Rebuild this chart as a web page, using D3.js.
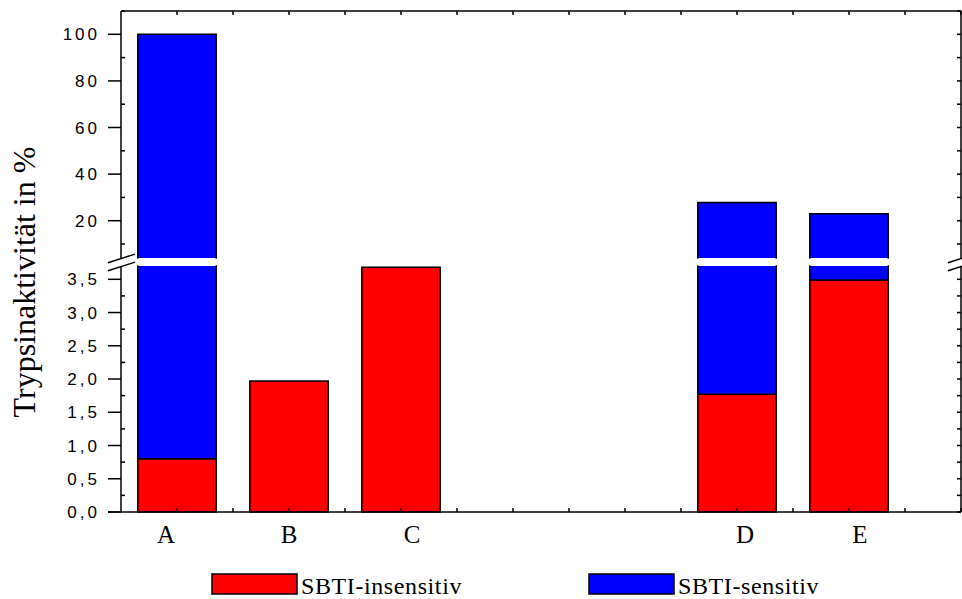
<!DOCTYPE html>
<html>
<head>
<meta charset="utf-8">
<script src="https://cdn.jsdelivr.net/npm/d3@7"></script>
<style>
    html, body { margin: 0; padding: 0; background: #ffffff; }
    svg { display: block; }
</style>
</head>
<body>
<svg id="chart" width="962" height="599"></svg>
<script>
// data
const categories = ["A", "B", "C", "D", "E"];
const slots = [1, 2, 3, 6, 7];
const insensitive = [0.8, 1.97, 3.68, 1.77, 3.49];
const sensitive = [99.2, 0, 0, 26.0, 19.5];
const lowTicks = [0, 0.5, 1, 1.5, 2, 2.5, 3, 3.5];
const highTicks = [20, 40, 60, 80, 100];
const seriesNames = ["SBTI-insensitiv", "SBTI-sensitiv"];
const seriesColors = ["#ff0000", "#0000ff"];
// small shifts of the category labels, as in the original layout
const labelNudge = [-11, 0, 11, 8, 11];

const frame = { left: 121, right: 961, top: 11, bottom: 512 };
const gapTop = 258, gapBottom = 266;

const svg = d3.select("#chart");

const x = d3.scaleLinear()
    .domain([0.5, 8])
    .range([frame.left, frame.right]);

const yLow = d3.scaleLinear().domain([0, 3.7]).range([frame.bottom, gapBottom]);
const yHigh = d3.scaleLinear().domain([4, 110]).range([gapTop, frame.top]);

const panels = [
    { scale: yLow, lo: 0, hi: 3.7 },
    { scale: yHigh, lo: 4, hi: 110 }
];

const commaFormat = d3.formatLocale({ decimal: ",", thousands: ".", grouping: [3], currency: ["", "€"] }).format(".1f");

const barWidth = x(0.7) - x(0);

// bars, cut at the axis break
const bars = svg.append("g");
categories.forEach((cat, i) => {
    const segments = [
        { y0: 0, y1: insensitive[i], color: seriesColors[0] },
        { y0: insensitive[i], y1: insensitive[i] + sensitive[i], color: seriesColors[1] }
    ].filter(s => s.y1 > s.y0);

    const xl = x(slots[i]) - barWidth / 2;
    const xr = x(slots[i]) + barWidth / 2;

    segments.forEach(seg => {
        panels.forEach(p => {
            const a = Math.max(seg.y0, p.lo);
            const b = Math.min(seg.y1, p.hi);
            if (b <= a) return;
            const yt = p.scale(b), yb = p.scale(a);
            bars.append("rect")
                .attr("x", xl)
                .attr("y", yt)
                .attr("width", barWidth)
                .attr("height", yb - yt)
                .attr("fill", seg.color);

            let d = `M${xl},${yb}V${yt}M${xr},${yb}V${yt}`;
            if (seg.y1 <= p.hi) d += `M${xl},${yt}H${xr}`;
            if (seg.y0 >= p.lo) d += `M${xl},${yb}H${xr}`;
            bars.append("path")
                .attr("d", d)
                .attr("fill", "none")
                .attr("stroke", "#000")
                .attr("stroke-width", 1.5)
                .attr("stroke-linecap", "square");
        });
    });
});

const ink = "#000";
const axes = svg.append("g")
    .attr("stroke", ink)
    .attr("stroke-width", 1.5)
    .attr("fill", "none");

// left and right frame, broken at the gap
[frame.left, frame.right].forEach(xp => {
    axes.append("line").attr("x1", xp).attr("x2", xp).attr("y1", frame.top).attr("y2", gapTop + 0.5);
    axes.append("line").attr("x1", xp).attr("x2", xp).attr("y1", gapBottom + 0.5).attr("y2", frame.bottom);
    // break marks
    [gapTop + 0.5, gapBottom + 0.5].forEach(yc => {
        axes.append("line")
            .attr("x1", xp - 13).attr("y1", yc + 4.3)
            .attr("x2", xp + 14).attr("y2", yc - 4.4);
    });
});

// top frame and bottom axis
axes.append("line").attr("x1", frame.left).attr("x2", frame.right).attr("y1", frame.top).attr("y2", frame.top);
axes.append("line").attr("x1", frame.left - 13).attr("x2", frame.right).attr("y1", frame.bottom).attr("y2", frame.bottom);

// x ticks every half slot, inward on bottom and top
const xTicks = d3.range(1, 8.01, 0.5);
xTicks.forEach(t => {
    axes.append("line").attr("x1", x(t)).attr("x2", x(t)).attr("y1", frame.bottom).attr("y2", frame.bottom - 4);
    axes.append("line").attr("x1", x(t)).attr("x2", x(t)).attr("y1", frame.top).attr("y2", frame.top + 4);
});

// y ticks: majors outward on the left, minors inward, all inward on the right
const lowMinor = d3.range(0.25, 3.7, 0.5);
const highMinor = d3.range(10, 110.01, 20);
const yMarks = [
    ...lowTicks.map(v => ({ y: yLow(v), major: true })),
    ...lowMinor.map(v => ({ y: yLow(v), major: false })),
    ...highTicks.map(v => ({ y: yHigh(v), major: true })),
    ...highMinor.map(v => ({ y: yHigh(v), major: false }))
];
yMarks.forEach(m => {
    if (m.major) {
        axes.append("line").attr("x1", frame.left - 13).attr("x2", frame.left).attr("y1", m.y).attr("y2", m.y);
    } else {
        axes.append("line").attr("x1", frame.left).attr("x2", frame.left + 4).attr("y1", m.y).attr("y2", m.y);
    }
    axes.append("line").attr("x1", frame.right).attr("x2", frame.right - 4).attr("y1", m.y).attr("y2", m.y);
});

// tick labels
const tickLabels = svg.append("g")
    .attr("font-family", "'Liberation Sans', Arial, sans-serif")
    .attr("font-size", 17)
    .attr("letter-spacing", 3)
    .attr("text-anchor", "end")
    .attr("fill", ink);

lowTicks.forEach(v => {
    tickLabels.append("text")
        .attr("x", 100)
        .attr("y", yLow(v))
        .attr("dy", "0.36em")
        .text(commaFormat(v));
});
highTicks.forEach(v => {
    tickLabels.append("text")
        .attr("x", 100)
        .attr("y", yHigh(v))
        .attr("dy", "0.36em")
        .text(v);
});

// category labels
svg.append("g")
    .attr("font-family", "'Liberation Serif', 'Times New Roman', serif")
    .attr("font-size", 25)
    .attr("text-anchor", "middle")
    .attr("fill", ink)
    .selectAll("text")
    .data(categories)
    .join("text")
    .attr("x", (d, i) => x(slots[i]) + labelNudge[i])
    .attr("y", 543)
    .text(d => d);

// y axis title
svg.append("text")
    .attr("transform", "translate(35,282) rotate(-90)")
    .attr("font-family", "'Liberation Serif', 'Times New Roman', serif")
    .attr("font-size", 32)
    .attr("text-anchor", "middle")
    .attr("fill", ink)
    .text("Trypsinaktivität in %");

// legend
const legendX = [212, 589];
const legend = svg.append("g")
    .selectAll("g")
    .data(seriesNames)
    .join("g")
    .attr("transform", (d, i) => `translate(${legendX[i]},574)`);

legend.append("rect")
    .attr("width", 85)
    .attr("height", 20)
    .attr("fill", (d, i) => seriesColors[i])
    .attr("stroke", "#000")
    .attr("stroke-width", 1.5);

legend.append("text")
    .attr("x", 89)
    .attr("y", 20)
    .attr("font-family", "'Liberation Serif', 'Times New Roman', serif")
    .attr("font-size", 24)
    .attr("letter-spacing", 0.6)
    .attr("fill", ink)
    .text(d => d);
</script>
</body>
</html>
